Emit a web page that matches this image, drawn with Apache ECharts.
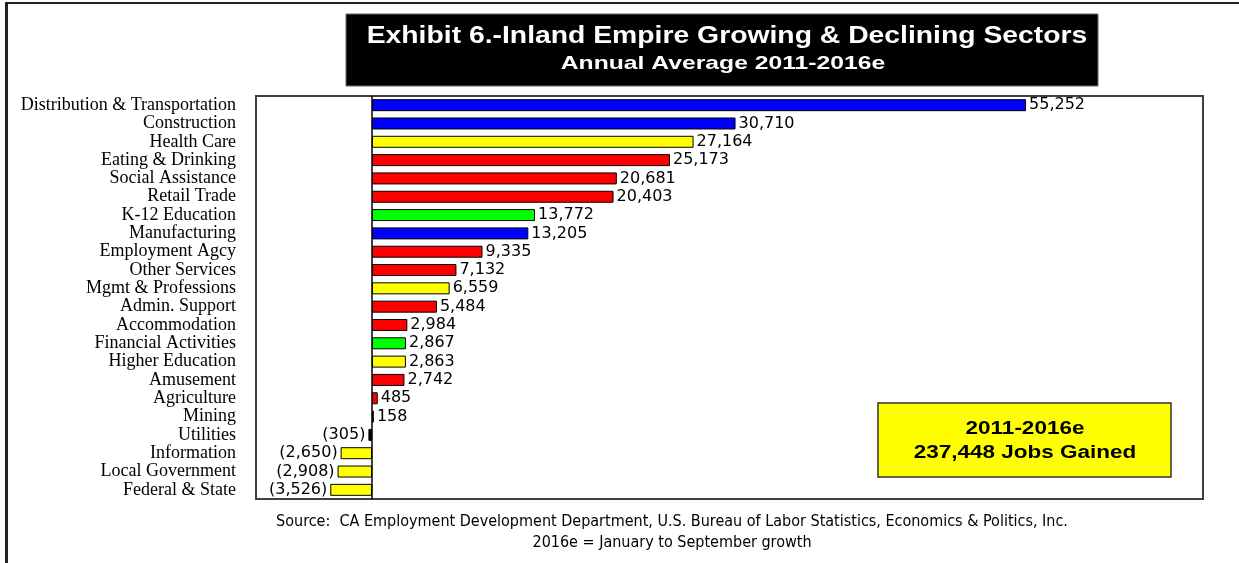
<!DOCTYPE html>
<html>
<head>
<meta charset="utf-8">
<script src="https://cdn.jsdelivr.net/npm/echarts@6/dist/echarts.min.js"></script>
<style>
  html, body { margin: 0; padding: 0; background: #fff; }
  #chart { width: 1239px; height: 563px; }
</style>
</head>
<body>
<div id="chart"></div>
<script>
// Inland Empire job change by sector, 2011-2016e
const sectors = [
  'Distribution & Transportation', 'Construction', 'Health Care', 'Eating & Drinking',
  'Social Assistance', 'Retail Trade', 'K-12 Education', 'Manufacturing',
  'Employment Agcy', 'Other Services', 'Mgmt & Professions', 'Admin. Support',
  'Accommodation', 'Financial Activities', 'Higher Education', 'Amusement',
  'Agriculture', 'Mining', 'Utilities', 'Information', 'Local Government', 'Federal & State'
];
const jobChange = [
  55252, 30710, 27164, 25173,
  20681, 20403, 13772, 13205,
  9335, 7132, 6559, 5484,
  2984, 2867, 2863, 2742,
  485, 158, -305, -2650, -2908, -3526
];
// Bar colour for each sector
const sectorColors = [
  '#0000ff', '#0000ff', '#ffff00', '#ff0000',
  '#ff0000', '#ff0000', '#00ff00', '#0000ff',
  '#ff0000', '#ff0000', '#ffff00', '#ff0000',
  '#ff0000', '#00ff00', '#ffff00', '#ff0000',
  '#ff0000', '#ffffff', '#000000', '#ffff00', '#ffff00', '#ffff00'
];
const totalLine1 = '2011-2016e';
const totalLine2 = '237,448 Jobs Gained';

const fmt = v => {
  const s = Math.abs(v).toLocaleString('en-US');
  return v < 0 ? '(' + s + ')' : s;
};

const chart = echarts.init(document.getElementById('chart'), null, { renderer: 'canvas' });

const barData = jobChange.map((v, i) => ({
  value: v,
  itemStyle: { color: sectorColors[i] },
  label: { position: v < 0 ? 'left' : 'right' }
}));

const sans = '"Liberation Sans", Arial, sans-serif';

chart.setOption({
  animation: false,
  backgroundColor: '#ffffff',
  grid: {
    left: 256, top: 96, width: 947, height: 403,
    show: true, borderColor: '#404040', borderWidth: 2, backgroundColor: '#ffffff'
  },
  xAxis: {
    type: 'value', min: -9800, max: 70200,
    axisLine: { show: false }, axisTick: { show: false },
    axisLabel: { show: false }, splitLine: { show: false }
  },
  yAxis: {
    type: 'category', data: sectors, inverse: true,
    axisLine: { show: false }, axisTick: { show: false }, splitLine: { show: false },
    axisLabel: {
      interval: 0, margin: 20, color: '#000',
      fontFamily: '"Liberation Serif", "DejaVu Serif", serif', fontSize: 18
    }
  },
  series: [{
    type: 'bar',
    data: barData,
    barWidth: 12,
    itemStyle: { borderColor: '#000', borderWidth: 1 },
    label: {
      show: true, distance: 3, color: '#000',
      fontFamily: '"DejaVu Sans", sans-serif', fontSize: 16,
      formatter: p => fmt(p.value)
    },
    markLine: {
      silent: true, symbol: 'none', label: { show: false },
      lineStyle: { color: '#000', type: 'solid', width: 1.5 },
      data: [{ xAxis: 0 }]
    }
  }],
  graphic: [
    // frame lines
    { type: 'rect', shape: { x: 5, y: 2, width: 1234, height: 2 }, style: { fill: '#222' } },
    { type: 'rect', shape: { x: 5, y: 2, width: 3, height: 561 }, style: { fill: '#222' } },
    // title block
    { type: 'rect', shape: { x: 346, y: 14, width: 752, height: 72 }, style: { fill: '#000', stroke: '#666', lineWidth: 1 } },
    { type: 'text', x: 727, y: 36, scaleX: 1.18, style: {
        text: 'Exhibit 6.-Inland Empire Growing & Declining Sectors',
        fill: '#fff', font: 'bold 24px ' + sans,
        textAlign: 'center', textVerticalAlign: 'middle' } },
    { type: 'text', x: 723, y: 64, scaleX: 1.3, style: {
        text: 'Annual Average 2011-2016e',
        fill: '#fff', font: 'bold 19px ' + sans,
        textAlign: 'center', textVerticalAlign: 'middle' } },
    // total box
    { type: 'rect', shape: { x: 878, y: 403, width: 293, height: 74 }, style: { fill: '#ffff00', stroke: '#333', lineWidth: 1.5 } },
    { type: 'text', x: 1025, y: 429, scaleX: 1.25, style: {
        text: totalLine1, fill: '#000', font: 'bold 18px ' + sans,
        textAlign: 'center', textVerticalAlign: 'middle' } },
    { type: 'text', x: 1025, y: 453, scaleX: 1.25, style: {
        text: totalLine2, fill: '#000', font: 'bold 18px ' + sans,
        textAlign: 'center', textVerticalAlign: 'middle' } },
    // source notes
    { type: 'text', x: 672, y: 522, style: {
        text: 'Source:  CA Employment Development Department, U.S. Bureau of Labor Statistics, Economics & Politics, Inc.',
        fill: '#000', font: '16px "DejaVu Sans Condensed", "Liberation Sans Narrow", sans-serif',
        textAlign: 'center', textVerticalAlign: 'middle' } },
    { type: 'text', x: 672, y: 543, style: {
        text: '2016e = January to September growth',
        fill: '#000', font: '16px "DejaVu Sans Condensed", "Liberation Sans Narrow", sans-serif',
        textAlign: 'center', textVerticalAlign: 'middle' } }
  ]
});
</script>
</body>
</html>
